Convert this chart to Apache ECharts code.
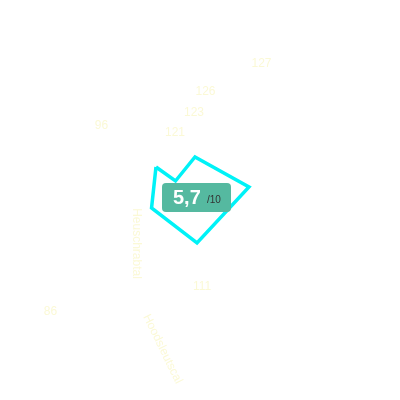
<!DOCTYPE html>
<html>
<head>
<meta charset="utf-8">
<script src="https://cdn.jsdelivr.net/npm/echarts@6/dist/echarts.min.js"></script>
<style>
html,body{margin:0;padding:0;background:#fff;}
#c{width:400px;height:400px;}
</style>
</head>
<body>
<div id="c"></div>
<script>
// Polygon vertices: radius and angle (degrees, counter-clockwise from east)
const radii  = [41.1, 18.6, 42.7, 66.9, 47.1, 33.0];
const angles = [131.1, 113.8, 73.7, 9.5, 287.3, 197.6];
// Scattered faint labels
const numberLabels = ['127', '126', '123', '121', '96', '111', '86'];
const nameLabels = ['Heuschrabtal', 'Hoodsleutscal'];
// Score badge
const scoreValue = '5,7';
const scoreMax = '/10';

// layout (kept separate from data)
const numberPos = [[261.5,64],[205.5,92],[194,113],[175,133],[101.5,125.5],[202,286.5],[50.5,312]];
const namePos = [[136,243.5,-Math.PI/2],[162.5,349,-1.117]];
const faint = '#fbf9d6';
const font = '"Liberation Sans", Arial, sans-serif';

const polyData = radii.map((r, i) => [r, angles[i]]);
polyData.push([radii[0], angles[0]]);

const graphics = [];
numberLabels.forEach((t, i) => {
  graphics.push({type:'text', x:numberPos[i][0], y:numberPos[i][1], z:50,
    style:{text:t, fill:faint, font:'12px ' + font, textAlign:'center', textVerticalAlign:'middle'}});
});
nameLabels.forEach((t, i) => {
  graphics.push({type:'text', x:namePos[i][0], y:namePos[i][1], rotation:namePos[i][2], z:50,
    style:{text:t, fill:faint, font:'12px ' + font, textAlign:'center', textVerticalAlign:'middle'}});
});
graphics.push({type:'rect', z:100, shape:{x:162, y:183, width:69, height:29, r:4}, style:{fill:'#55b9a0'}});
graphics.push({type:'text', z:101, x:173, y:198,
  style:{text:scoreValue, fill:'#ffffff', font:'bold 20px ' + font, textAlign:'left', textVerticalAlign:'middle'}});
graphics.push({type:'text', z:101, x:207, y:200,
  style:{text:scoreMax, fill:'#333333', font:'10px ' + font, textAlign:'left', textVerticalAlign:'middle'}});

const chart = echarts.init(document.getElementById('c'));
chart.setOption({
  animation:false,
  backgroundColor:'#ffffff',
  polar:{center:[183,198], radius:100},
  angleAxis:{type:'value', min:0, max:360, startAngle:0, clockwise:false, show:false},
  radiusAxis:{type:'value', min:0, max:100, show:false},
  series:[{
    type:'line', coordinateSystem:'polar', data:polyData,
    symbol:'none', lineStyle:{color:'#00f2f7', width:3.5, join:'miter'}, z:2
  }],
  graphic:graphics
});
</script>
</body>
</html>
